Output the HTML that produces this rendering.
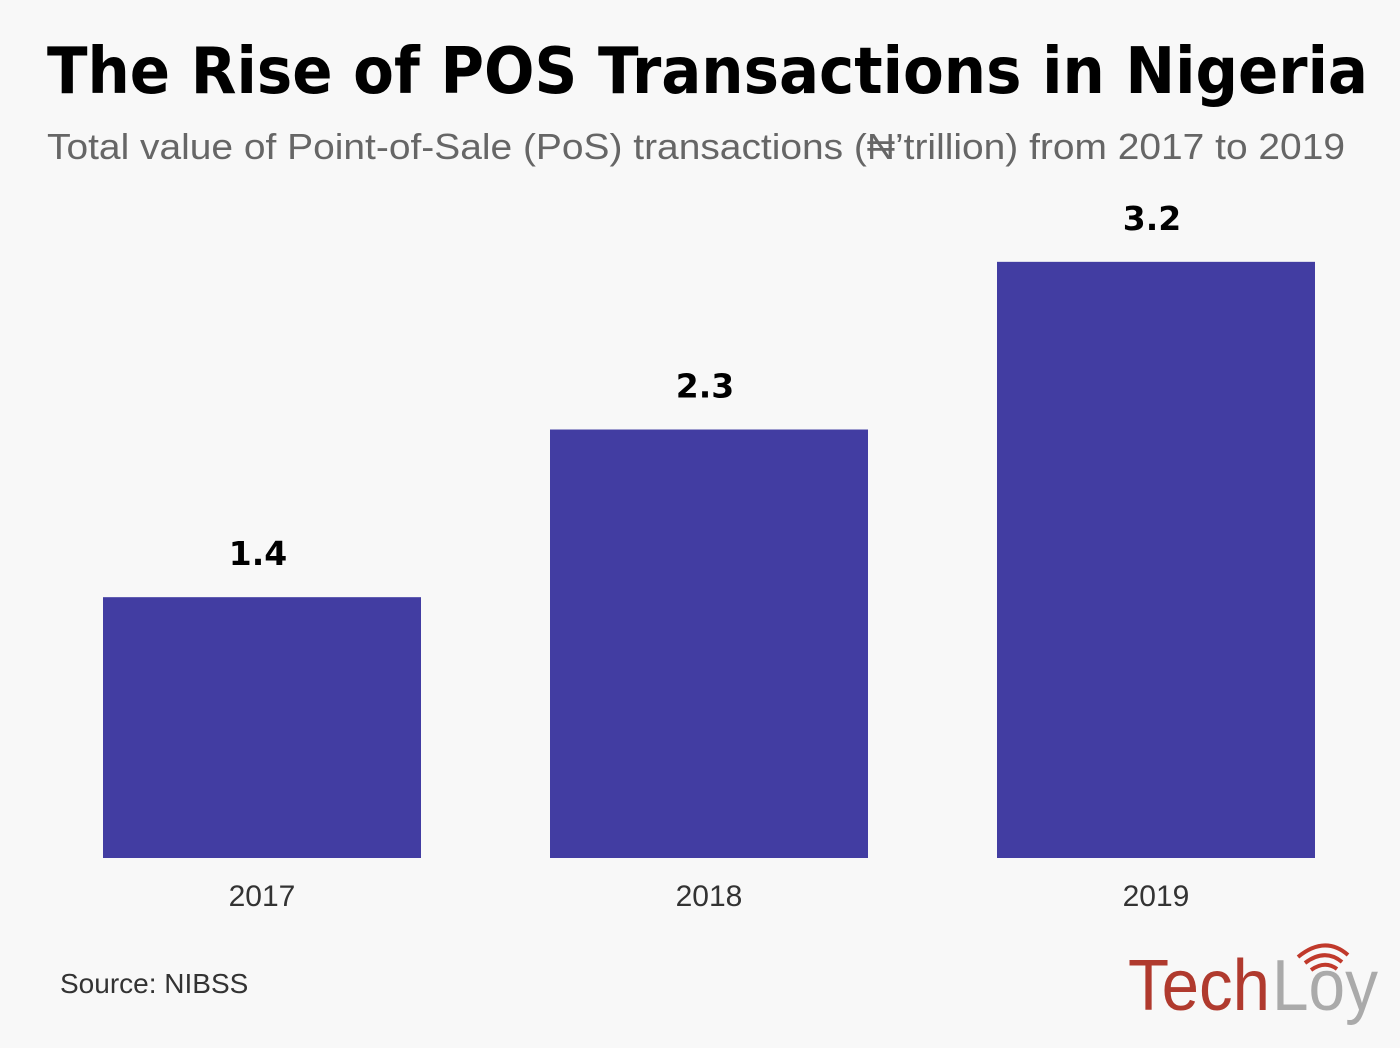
<!DOCTYPE html>
<html><head><meta charset="utf-8"><style>
html,body{margin:0;padding:0;background:#f8f8f8}
svg{display:block}
</style></head><body>
<svg width="1400" height="1048" viewBox="0 0 1400 1048">
<rect width="1400" height="1048" fill="#f8f8f8"/>
<text x="47" y="93" font-family="DejaVu Sans, sans-serif" font-weight="bold" font-size="64" textLength="1321" lengthAdjust="spacingAndGlyphs" fill="#000">The Rise of POS Transactions in Nigeria</text>
<text x="47" y="159" font-family="Liberation Sans, sans-serif" font-size="36" textLength="1298" lengthAdjust="spacingAndGlyphs" fill="#666">Total value of Point-of-Sale (PoS) transactions (₦’trillion) from 2017 to 2019</text>
<g id="bars"></g>
<text x="60" y="993" font-family="Liberation Sans, sans-serif" font-size="28" fill="#333">Source: NIBSS</text>
<g>
<text x="1128" y="1010" font-family="Liberation Sans, sans-serif" font-size="72" textLength="142" lengthAdjust="spacingAndGlyphs" fill="#b03a2e">Tech</text>
<text x="1272" y="1010" font-family="Liberation Sans, sans-serif" font-size="72" textLength="106" lengthAdjust="spacingAndGlyphs" fill="#aaa">Loy</text>
<path d="M1298 957 Q1325 935 1348 955" fill="none" stroke="#c0392b" stroke-width="4"/>
<path d="M1305 963 Q1325 948 1342 962" fill="none" stroke="#c0392b" stroke-width="4"/>
<path d="M1311 970 Q1325 960 1337 969" fill="none" stroke="#c0392b" stroke-width="4"/>
</g>
</svg>
<script>
const categories = ["2017", "2018", "2019"];
const values = [1.4, 2.3, 3.2];
const valueLabels = ["1.4", "2.3", "3.2"];
const baseY = 858, pxPerUnit = 186.3;
function yScale(v){ return baseY - v * pxPerUnit; }
function xScale(i){ return 103 + i * 447; }
const barW = 318;
const g = document.getElementById('bars');
const ns = 'http://www.w3.org/2000/svg';
categories.forEach((c, i) => {
  const x = xScale(i), y = yScale(values[i]);
  const r = document.createElementNS(ns, 'rect');
  r.setAttribute('x', x); r.setAttribute('y', y);
  r.setAttribute('width', barW); r.setAttribute('height', baseY - y);
  r.setAttribute('fill', '#423da2');
  
  
  g.appendChild(r);
  const t = document.createElementNS(ns, 'text');
  t.setAttribute('x', x + barW / 2 - 4); t.setAttribute('y', y - 32);
  t.setAttribute('text-anchor', 'middle');
  t.setAttribute('font-family', 'DejaVu Sans, sans-serif');
  t.setAttribute('font-weight', 'bold');
  t.setAttribute('font-size', '33');
  t.textContent = valueLabels[i];
  
  
  g.appendChild(t);
  const l = document.createElementNS(ns, 'text');
  l.setAttribute('x', x + barW / 2); l.setAttribute('y', 906);
  l.setAttribute('text-anchor', 'middle');
  l.setAttribute('font-family', 'Liberation Sans, sans-serif');
  l.setAttribute('font-size', '30');
  l.setAttribute('fill', '#333');
  l.textContent = c;
  
  
  g.appendChild(l);
});
</script>
</body></html>
